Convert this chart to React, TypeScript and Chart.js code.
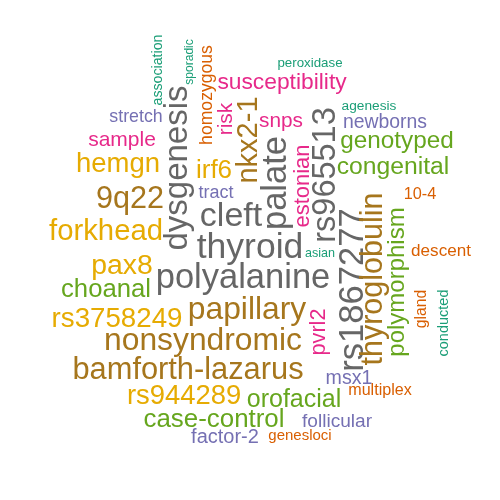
import { useEffect, useRef } from "react";
import Chart from "chart.js/auto";

const palette = ["#666666", "#A6761D", "#E6AB02", "#66A61E", "#E7298A", "#7570B3", "#D95F02", "#1B9E77"];

const words = [
  "peroxidase", "susceptibility", "agenesis", "snps", "newborns", "genotyped", "congenital",
  "stretch", "sample", "hemgn", "irf6", "9q22", "tract", "cleft", "forkhead", "thyroid",
  "pax8", "polyalanine", "asian", "choanal", "papillary", "rs3758249", "nonsyndromic",
  "bamforth-lazarus", "rs944289", "orofacial", "case-control", "msx1", "multiplex",
  "follicular", "factor-2", "genesloci", "10-4", "descent",
  "association", "sporadic", "homozygous", "risk", "dysgenesis", "nkx2-1", "palate",
  "rs965513", "estonian", "rs1867277", "thyroglobulin", "polymorphism", "pvrl2", "gland",
  "conducted",
];

// relative frequency of each word
const weights = [
  4.3, 13.8, 4.7, 11.8, 10.4, 15.3, 15.7,
  8.8, 12, 18.5, 17, 21.6, 9, 25, 20.3, 26.5,
  19.4, 25.5, 3.6, 16.7, 22.8, 18.7, 22.8,
  21.8, 18.4, 16, 16.9, 10.6, 7.1,
  10.1, 11, 6, 7.3, 8.1,
  5.2, 3.1, 8.6, 11.8, 24, 20, 25.5,
  23.5, 13, 25.6, 21.5, 15, 12.7, 6.7,
  5.5,
];

// palette index per word
const shade = [
  7, 4, 7, 4, 5, 3, 3,
  5, 4, 2, 2, 1, 5, 0, 2, 0,
  2, 0, 7, 3, 1, 2, 1,
  1, 2, 3, 3, 5, 6,
  5, 5, 6, 6, 6,
  7, 7, 6, 4, 0, 1, 0,
  0, 4, 0, 1, 3, 4, 6,
  7,
];

// layout: horizontal words -> (centre x, baseline y); vertical words -> (baseline x, centre y)
const layoutX = [
  310, 282, 369, 281, 385, 397, 393,
  136, 122, 118, 214, 130, 216, 231, 106, 250,
  122, 243, 320, 106, 247, 117, 203,
  188, 184, 294, 214, 349, 380,
  337, 225, 300, 420, 441,
  162, 193, 212, 232, 187, 257, 286,
  335, 309, 363, 382, 404, 325, 426,
  448,
];
const layoutY = [
  67, 89, 110, 127, 128, 148, 174,
  122, 146, 172, 178, 208, 198, 226, 240, 258,
  274, 288, 257, 297, 319, 327, 350,
  379, 404, 407, 427, 384, 395,
  427, 443, 440, 199, 256,
  70, 62, 95, 119, 168, 140, 183,
  175, 186, 290, 279, 282, 332, 309,
  323,
];
const vertical = words.map((_, i) => i >= 34);

const fontPx = (w: number) => w + 9;

const wordPlugin = {
  id: "words",
  afterDatasetsDraw(chart: any) {
    const ctx = chart.ctx;
    const meta = chart.getDatasetMeta(0);
    meta.data.forEach((pt: any, i: number) => {
      ctx.save();
      ctx.translate(pt.x, pt.y);
      if (vertical[i]) ctx.rotate(-Math.PI / 2);
      ctx.font = `${fontPx(weights[i])}px "Liberation Sans", Arial, sans-serif`;
      ctx.fillStyle = palette[shade[i]];
      ctx.textAlign = "center";
      ctx.textBaseline = "alphabetic";
      ctx.fillText(words[i], 0, 0);
      ctx.restore();
    });
  },
};

function WordCloud() {
  const ref = useRef<HTMLCanvasElement | null>(null);

  useEffect(() => {
    if (!ref.current) return;
    const chart = new Chart(ref.current, {
      type: "scatter",
      data: {
        datasets: [
          {
            data: words.map((_, i) => ({ x: layoutX[i], y: layoutY[i] })),
            pointRadius: 0,
            pointHoverRadius: 0,
          },
        ],
      },
      options: {
        animation: false,
        responsive: true,
        maintainAspectRatio: false,
        layout: { padding: 0 },
        plugins: { legend: { display: false }, tooltip: { enabled: false } },
        events: [],
        scales: {
          x: { type: "linear", min: 0, max: 500, display: false },
          y: { type: "linear", min: 0, max: 500, reverse: true, display: false },
        },
      },
      plugins: [wordPlugin],
    });
    return () => chart.destroy();
  }, []);

  return (
    <div style={{ position: "absolute", left: 0, top: 0, width: 500, height: 500, background: "#fff" }}>
      <canvas ref={ref} />
    </div>
  );
}

export default function App() {
  return <WordCloud />;
}
